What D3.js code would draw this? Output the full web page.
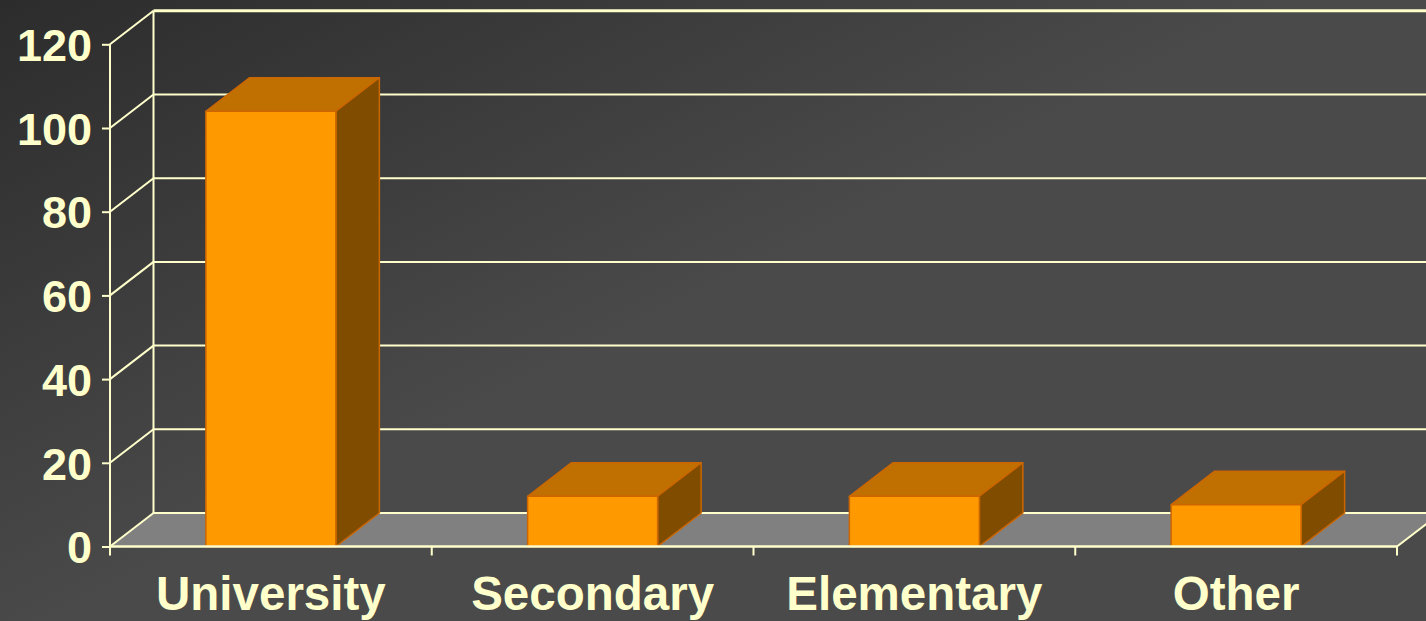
<!DOCTYPE html>
<html>
<head>
<meta charset="utf-8">
<script src="https://cdn.jsdelivr.net/npm/d3@7"></script>
<style>
  html, body { margin: 0; padding: 0; background: #3a3a3a; }
  svg { display: block; }
</style>
</head>
<body>
<svg id="chart" width="1426" height="621"></svg>
<script>
// Enrolment by school level
const categories = ["University", "Secondary", "Elementary", "Other"];
const values = [104, 12, 12, 10];
const yTicks = [0, 20, 40, 60, 80, 100, 120];

const W = 1426, H = 621;
const svg = d3.select("#chart");

// depth offset of the 3D box (back plane relative to front plane)
const DX = 43.5, DY = -33.5;

const x = d3.scaleBand()
  .domain(categories)
  .range([110, 1397])
  .paddingInner(0.596)
  .paddingOuter(0.298);

const y = d3.scaleLinear().domain([0, 120]).range([546.5, 44.3]);

const ink = "#ffffcc";
const font = "'Liberation Sans', Arial, Helvetica, sans-serif";

// background
const defs = svg.append("defs");
const bg = defs.append("linearGradient")
  .attr("id", "bg").attr("gradientUnits", "userSpaceOnUse")
  .attr("x1", 0).attr("y1", 0).attr("x2", 260).attr("y2", 520);
bg.append("stop").attr("offset", 0).attr("stop-color", "#2c2c2c");
bg.append("stop").attr("offset", 1).attr("stop-color", "#4a4a4a");
svg.append("rect").attr("width", W).attr("height", H).attr("fill", "url(#bg)");

const [x0, x1] = x.range();
const y0 = y(0);

// floor
svg.append("polygon")
  .attr("points", [[x0, y0], [x1, y0], [x1 + DX, y0 + DY], [x0 + DX, y0 + DY]].join(" "))
  .attr("fill", "#808080");

// back wall gridlines and side-wall diagonals
const grid = svg.append("g").attr("stroke", ink).attr("fill", "none");
yTicks.forEach(t => {
  grid.append("line")
    .attr("x1", x0 + DX).attr("x2", W + 10)
    .attr("y1", y(t) + DY).attr("y2", y(t) + DY)
    .attr("stroke-width", t === 120 ? 3 : 2);
  grid.append("line")
    .attr("x1", x0).attr("y1", y(t))
    .attr("x2", x0 + DX).attr("y2", y(t) + DY)
    .attr("stroke-width", 2);
});
// back-left vertical edge
grid.append("line")
  .attr("x1", x0 + DX).attr("x2", x0 + DX)
  .attr("y1", y(120) + DY).attr("y2", y(0) + DY)
  .attr("stroke-width", 2);
// right floor edge
grid.append("line")
  .attr("x1", x1).attr("y1", y0)
  .attr("x2", x1 + DX).attr("y2", y0 + DY)
  .attr("stroke-width", 2);

// 3D bars
const bars = svg.append("g").selectAll("g.bar")
  .data(categories.map((c, i) => ({ c, v: values[i] })))
  .join("g").attr("class", "bar")
  .attr("stroke", "#cc6600").attr("stroke-width", 1.5).attr("stroke-linejoin", "round");

bars.each(function (d) {
  const g = d3.select(this);
  const l = x(d.c), r = l + x.bandwidth(), top = y(d.v);
  // top face
  g.append("polygon")
    .attr("points", [[l, top], [r, top], [r + DX, top + DY], [l + DX, top + DY]].join(" "))
    .attr("fill", "#c07000");
  // side face
  g.append("polygon")
    .attr("points", [[r, top], [r + DX, top + DY], [r + DX, y0 + DY], [r, y0]].join(" "))
    .attr("fill", "#7f4c00");
  // front face
  g.append("rect")
    .attr("x", l).attr("y", top)
    .attr("width", r - l).attr("height", y0 - top)
    .attr("fill", "#ff9900");
});

// front y axis
const yAxis = svg.append("g")
  .attr("transform", `translate(${x0},0)`)
  .call(d3.axisLeft(y).tickValues(yTicks).tickSize(8).tickPadding(10).tickFormat(d3.format("d")));
yAxis.select(".domain").attr("stroke", ink).attr("stroke-width", 2)
  .attr("d", `M0,${y(120)}V${y(0)}`);
yAxis.selectAll(".tick line").attr("stroke", ink).attr("stroke-width", 2);
yAxis.selectAll(".tick text")
  .attr("fill", ink)
  .attr("font-family", font)
  .attr("font-weight", "bold")
  .attr("font-size", 45)
  .attr("dy", "0.36em");

// front x axis line
svg.append("line")
  .attr("x1", x0).attr("x2", x1)
  .attr("y1", y0).attr("y2", y0)
  .attr("stroke", ink).attr("stroke-width", 2.5);

// category boundary ticks
const bounds = [x0].concat(categories.map(c => x(c) - x.step() * x.paddingInner() / 2 + x.step()));
svg.append("g").selectAll("line")
  .data(bounds)
  .join("line")
  .attr("x1", d => d).attr("x2", d => d)
  .attr("y1", y0).attr("y2", y0 + 9)
  .attr("stroke", ink).attr("stroke-width", 2);

// category labels
svg.append("g").selectAll("text")
  .data(categories)
  .join("text")
  .attr("x", d => x(d) + x.bandwidth() / 2)
  .attr("y", 610)
  .attr("text-anchor", "middle")
  .attr("fill", ink)
  .attr("font-family", font)
  .attr("font-weight", "bold")
  .attr("font-size", 47.5)
  .text(d => d);
</script>
</body>
</html>
